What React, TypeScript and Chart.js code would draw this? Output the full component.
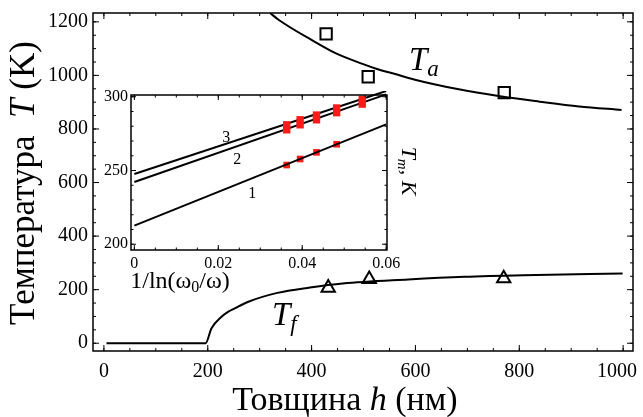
import React, { useEffect, useRef } from "react";
import { Chart, registerables } from "chart.js";

Chart.register(...registerables);

const SERIF = "'Liberation Serif', 'Times New Roman', 'DejaVu Serif', serif";

// ---------- Main chart data ----------
const thicknessTicks = [0, 200, 400, 600, 800, 1000];
const temperatureTicks = [0, 200, 400, 600, 800, 1000, 1200];

const taCurveH = [320, 337, 403, 447, 498, 523, 561, 599, 681, 763, 839, 915, 997];
const taCurveT = [1233, 1207, 1129, 1082, 1043, 1026, 1005, 984, 949, 922, 902, 884, 871];

const tfCurveH = [5, 196, 207, 226, 239, 252, 277, 334, 397, 460, 586, 694, 808, 999];
const tfCurveT = [0, 0, 55, 98, 117, 130, 154, 188, 208, 223, 238, 248, 254, 260];

const taPointsH = [428, 509, 771];
const taPointsT = [1155, 995, 936];

const tfPointsH = [432, 511, 770];
const tfPointsT = [207, 239, 242];

// ---------- Inset data ----------
const insetXTicks = [0, 0.02, 0.04, 0.06];
const insetYTicks = [200, 250, 300];

const fitX = [0, 0.06];
const fit1T = [212.6, 281.3];
const fit2T = [242.2, 301.6];
const fit3T = [247.6, 303.9];

const set1X = [0.0363, 0.0395, 0.0434, 0.0482];
const set1T = [253.7, 257.8, 262.3, 267.8];
const set23X = [0.0363, 0.0395, 0.0434, 0.0482, 0.0543];
const set2T = [277.6, 281.0, 284.4, 289.2, 295.0];
const set3T = [281.0, 284.4, 287.6, 292.4, 298.2];

const lineLabels = ["3", "2", "1"];

// ---------- helpers ----------
const pts = (xs: number[], ys: number[]) => xs.map((x, i) => ({ x, y: ys[i] }));
const range = (a: number, b: number, step: number) => {
  const out: number[] = [];
  const n = Math.round((b - a) / step);
  for (let i = 0; i <= n; i++) out.push(+(a + i * step).toFixed(6));
  return out;
};

type Seg = { t: string; it?: boolean; size?: number; dy?: number };

function drawRich(
  ctx: CanvasRenderingContext2D,
  segs: Seg[],
  x: number,
  y: number,
  baseSize: number,
  rot = 0,
  align: "center" | "left" = "center"
) {
  ctx.save();
  ctx.translate(x, y);
  ctx.rotate(rot);
  ctx.textBaseline = "alphabetic";
  ctx.textAlign = "left";
  ctx.fillStyle = "#000";
  const fontOf = (s: Seg) => `${s.it ? "italic " : ""}${s.size ?? baseSize}px ${SERIF}`;
  let total = 0;
  const widths = segs.map((s) => {
    ctx.font = fontOf(s);
    const w = ctx.measureText(s.t).width;
    total += w;
    return w;
  });
  let cx = align === "center" ? -total / 2 : 0;
  segs.forEach((s, i) => {
    ctx.font = fontOf(s);
    ctx.fillText(s.t, cx, s.dy ?? 0);
    cx += widths[i];
  });
  ctx.restore();
}

function makeFramePlugin(id: string, cfg: any) {
  return {
    id,
    afterDatasetsDraw(chart: any) {
      const { ctx, chartArea: a } = chart;
      const xs = chart.scales.x;
      const ys = chart.scales.y;
      ctx.save();
      ctx.strokeStyle = "#000";
      ctx.lineWidth = cfg.tickWidth;
      ctx.beginPath();
      const vt = (v: number, len: number) => {
        const p = xs.getPixelForValue(v);
        ctx.moveTo(p, a.bottom);
        ctx.lineTo(p, a.bottom - len);
        ctx.moveTo(p, a.top);
        ctx.lineTo(p, a.top + len);
      };
      const ht = (v: number, len: number) => {
        const p = ys.getPixelForValue(v);
        ctx.moveTo(a.left, p);
        ctx.lineTo(a.left + len, p);
        ctx.moveTo(a.right, p);
        ctx.lineTo(a.right - len, p);
      };
      cfg.xMinor.forEach((v: number) => vt(v, cfg.minorLen));
      cfg.xMajor.forEach((v: number) => vt(v, cfg.majorLen));
      cfg.yMinor.forEach((v: number) => ht(v, cfg.minorLen));
      cfg.yMajor.forEach((v: number) => ht(v, cfg.majorLen));
      ctx.stroke();
      ctx.lineWidth = cfg.frameWidth;
      ctx.strokeRect(a.left, a.top, a.right - a.left, a.bottom - a.top);
      ctx.restore();
    },
  };
}

const mainText = {
  id: "mainText",
  afterDraw(chart: any) {
    const ctx = chart.ctx as CanvasRenderingContext2D;
    const xs = chart.scales.x;
    ctx.save();
    ctx.fillStyle = "#000";
    ctx.font = `20px ${SERIF}`;
    ctx.textAlign = "center";
    ctx.textBaseline = "middle";
    thicknessTicks.forEach((v) => {
      const s = String(v);
      const w = ctx.measureText(s).width;
      const cx = Math.min(xs.getPixelForValue(v), 637 - w / 2);
      ctx.fillText(s, cx, 372);
    });
    ctx.restore();

    drawRich(ctx, [{ t: "Температура  " }, { t: "T", it: true }, { t: " (K)" }], 34, 183, 35, -Math.PI / 2);
    drawRich(ctx, [{ t: "Товщина " }, { t: "h", it: true }, { t: " (нм)" }], 345, 410, 34);
    drawRich(ctx, [{ t: "T", it: true }, { t: "a", it: true, size: 23, dy: 6 }], 409, 70, 33, 0, "left");
    drawRich(ctx, [{ t: "T", it: true }, { t: "f", it: true, size: 23, dy: 6 }], 272, 325, 33, 0, "left");
  },
};

const insetText = {
  id: "insetText",
  afterDraw(chart: any) {
    const ctx = chart.ctx as CanvasRenderingContext2D;
    drawRich(ctx, [{ t: "1/ln(ω" }, { t: "0", size: 16, dy: 4 }, { t: "/ω)" }], 180, 288, 24);
    drawRich(
      ctx,
      [{ t: "T", it: true }, { t: "m", it: true, size: 15, dy: 4 }, { t: ", K", it: true }],
      402,
      171,
      22,
      Math.PI / 2
    );
    const xs = chart.scales.x;
    const ys = chart.scales.y;
    ctx.save();
    ctx.fillStyle = "#000";
    ctx.font = `16px ${SERIF}`;
    ctx.textAlign = "center";
    ctx.textBaseline = "middle";
    const lx = [0.0219, 0.0245, 0.0281];
    const ly = [fit3T, fit2T, fit1T].map((f, i) => f[0] + ((f[1] - f[0]) / 0.06) * lx[i]);
    const off = [-6, 14, 16];
    lineLabels.forEach((s, i) => {
      ctx.fillText(s, xs.getPixelForValue(lx[i]), ys.getPixelForValue(ly[i]) + off[i]);
    });
    ctx.restore();
  },
};

export default function App() {
  const mainRef = useRef<HTMLCanvasElement>(null);
  const insetRef = useRef<HTMLCanvasElement>(null);

  useEffect(() => {
    const tickFont = { family: SERIF, size: 20 };
    const mainChart = new Chart(mainRef.current!, {
      type: "scatter",
      data: {
        datasets: [
          {
            data: pts(taCurveH, taCurveT),
            showLine: true,
            cubicInterpolationMode: "monotone",
            borderColor: "#000",
            borderWidth: 2,
            pointRadius: 0,
          },
          {
            data: pts(tfCurveH, tfCurveT),
            showLine: true,
            cubicInterpolationMode: "monotone",
            borderColor: "#000",
            borderWidth: 2,
            pointRadius: 0,
          },
          {
            data: pts(taPointsH, taPointsT),
            showLine: false,
            pointStyle: "rect",
            pointRadius: 8,
            borderColor: "#000",
            backgroundColor: "rgba(0,0,0,0)",
            borderWidth: 2,
          },
          {
            data: pts(tfPointsH, tfPointsT),
            showLine: false,
            pointStyle: "triangle",
            pointRadius: 7.7,
            borderColor: "#000",
            backgroundColor: "rgba(0,0,0,0)",
            borderWidth: 2,
          },
        ],
      } as any,
      options: {
        animation: false,
        responsive: false,
        devicePixelRatio: 1,
        layout: { padding: { top: 13, right: 2, left: 0, bottom: 0 } },
        plugins: { legend: { display: false }, tooltip: { enabled: false } },
        scales: {
          x: {
            type: "linear",
            min: -21,
            max: 1019,
            grid: { display: false, drawTicks: false },
            border: { display: false },
            ticks: { display: false },
            afterBuildTicks: (s: any) => {
              s.ticks = thicknessTicks.map((v) => ({ value: v }));
            },
            afterFit: (s: any) => {
              s.height = 66;
              s.paddingLeft = 0;
              s.paddingRight = 0;
            },
          },
          y: {
            type: "linear",
            min: -29,
            max: 1233,
            grid: { display: false, drawTicks: false },
            border: { display: false },
            ticks: {
              font: tickFont,
              color: "#000",
              padding: 5,
              autoSkip: false,
              callback: (v: number) => String(v),
            },
            afterBuildTicks: (s: any) => {
              s.ticks = temperatureTicks.map((v) => ({ value: v }));
            },
            afterFit: (s: any) => {
              s.width = 93;
              s.paddingTop = 0;
              s.paddingBottom = 0;
            },
          },
        },
      } as any,
      plugins: [
        makeFramePlugin("mainFrame", {
          xMajor: thicknessTicks,
          xMinor: range(0, 1000, 50),
          yMajor: temperatureTicks,
          yMinor: range(0, 1200, 50),
          majorLen: 6,
          minorLen: 3,
          tickWidth: 1,
          frameWidth: 1.5,
        }),
        mainText,
      ] as any,
    });

    const insetFont = { family: SERIF, size: 16 };
    const red = "#ff1a1a";
    const insetChart = new Chart(insetRef.current!, {
      type: "scatter",
      data: {
        datasets: [
          { data: pts(fitX, fit1T), showLine: true, borderColor: "#000", borderWidth: 2, pointRadius: 0, clip: 4 },
          { data: pts(set1X, set1T), showLine: false, pointStyle: "rect", pointRadius: 4.7, backgroundColor: red, borderWidth: 0 },
          { data: pts(set23X, set2T), showLine: false, pointStyle: "rect", pointRadius: 5.2, backgroundColor: red, borderWidth: 0 },
          { data: pts(set23X, set3T), showLine: false, pointStyle: "rect", pointRadius: 5.2, backgroundColor: red, borderWidth: 0 },
          { data: pts(fitX, fit2T), showLine: true, borderColor: "#000", borderWidth: 2, pointRadius: 0, clip: 4 },
          { data: pts(fitX, fit3T), showLine: true, borderColor: "#000", borderWidth: 2, pointRadius: 0, clip: 4 },
        ],
      } as any,
      options: {
        animation: false,
        responsive: false,
        devicePixelRatio: 1,
        layout: { padding: { top: 95, right: 256, left: 91, bottom: 137 } },
        plugins: { legend: { display: false }, tooltip: { enabled: false } },
        scales: {
          x: {
            type: "linear",
            min: -0.0008,
            max: 0.0602,
            grid: { display: false, drawTicks: false },
            border: { display: false },
            ticks: {
              font: insetFont,
              color: "#000",
              padding: 4,
              maxRotation: 0,
              autoSkip: false,
              callback: (v: number) => (v === 0 ? "0" : v.toFixed(2)),
            },
            afterBuildTicks: (s: any) => {
              s.ticks = insetXTicks.map((v) => ({ value: v }));
            },
            afterFit: (s: any) => {
              s.height = 30;
              s.paddingLeft = 0;
              s.paddingRight = 0;
            },
          },
          y: {
            type: "linear",
            min: 196.1,
            max: 301.2,
            grid: { display: false, drawTicks: false },
            border: { display: false },
            ticks: { font: insetFont, color: "#000", padding: 3, autoSkip: false },
            afterBuildTicks: (s: any) => {
              s.ticks = insetYTicks.map((v) => ({ value: v }));
            },
            afterFit: (s: any) => {
              s.width = 40;
              s.paddingTop = 0;
              s.paddingBottom = 0;
            },
          },
        },
      } as any,
      plugins: [
        makeFramePlugin("insetFrame", {
          xMajor: insetXTicks,
          xMinor: range(0, 0.06, 0.005),
          yMajor: insetYTicks,
          yMinor: range(200, 300, 10),
          majorLen: 5,
          minorLen: 2.5,
          tickWidth: 1,
          frameWidth: 1.5,
        }),
        insetText,
      ] as any,
    });

    return () => {
      mainChart.destroy();
      insetChart.destroy();
    };
  }, []);

  return (
    <div style={{ position: "fixed", left: 0, top: 0, width: 643, height: 417, background: "#fff" }}>
      <canvas ref={mainRef} width={643} height={417} style={{ position: "absolute", left: 0, top: 0 }} />
      <canvas ref={insetRef} width={643} height={417} style={{ position: "absolute", left: 0, top: 0 }} />
    </div>
  );
}
